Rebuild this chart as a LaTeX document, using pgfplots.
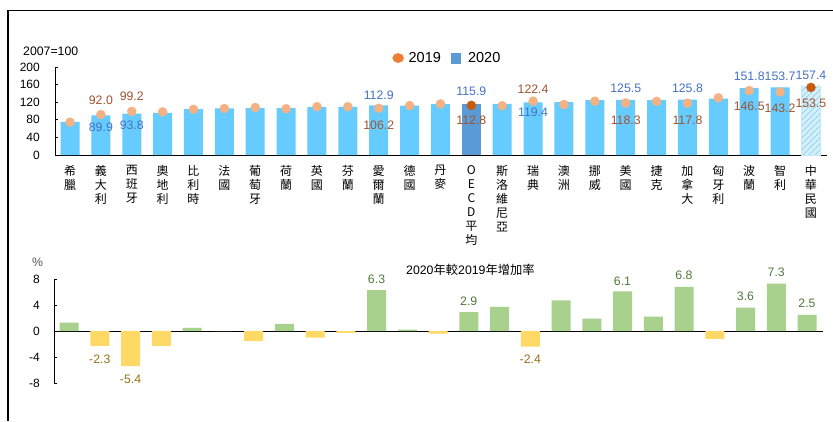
\documentclass[border=0pt]{standalone}
\usepackage{fontspec}
\setmainfont{Liberation Sans}
\newfontfamily\cjk{Noto Sans CJK TC}
\usepackage{pgfplots}
\pgfplotsset{compat=1.18}
\usetikzlibrary{patterns.meta}
\definecolor{barblue}{HTML}{66CCFF}
\definecolor{oecdblue}{HTML}{5B9BD5}
\definecolor{dotlight}{HTML}{F4B183}
\definecolor{dotdark}{HTML}{C55A11}
\definecolor{leg19}{HTML}{ED7D31}
\definecolor{leg20}{HTML}{5B9BD5}
\definecolor{lab19}{HTML}{A0522D}
\definecolor{lab20}{HTML}{4472C4}
\definecolor{posgreen}{HTML}{A9D18E}
\definecolor{negyellow}{HTML}{FFD966}
\definecolor{labpos}{HTML}{507A3C}
\definecolor{labneg}{HTML}{977414}
\definecolor{twfill}{HTML}{D6F0FB}
\definecolor{twhatch}{HTML}{8DD3F2}
\begin{document}
\begin{tikzpicture}[x=1pt,y=1pt,
  vl/.style={font=\fontsize{12.3}{14}\selectfont, inner sep=0pt, anchor=center}]
\useasboundingbox (0,0) rectangle (833,-421);
\fill[white] (0,0) rectangle (833,-421);
\draw[line width=1.3pt] (8,-421) -- (8,-10.5) -- (833,-10.5);
\node[anchor=west, font=\fontsize{12.3}{14}\selectfont, inner sep=0pt] at (23,-51) {2007=100};
\node[anchor=center, font=\fontsize{12.3}{14}\selectfont, inner sep=0pt, text=black!65] at (37.5,-262) {\%};
\node[anchor=west, font=\fontsize{12.3}{14}\selectfont, inner sep=0pt] at (406,-270) {2020{\cjk 年較}2019{\cjk 年增加率}};

\begin{axis}[
  scale only axis, width=772pt, height=88pt,
  at={(55pt,-155pt)}, anchor=south west,
  xmin=-0.486, xmax=24.52, ymin=0, ymax=200,
  axis x line*=bottom, axis y line*=left,
  axis line style={-, line width=0.9pt, black},
  xtick={0,...,24},
  xticklabels={{希\\臘},{義\\大\\利},{西\\班\\牙},{奧\\地\\利},{比\\利\\時},{法\\國},{葡\\萄\\牙},{荷\\蘭},{英\\國},{芬\\蘭},{愛\\爾\\蘭},{德\\國},{丹\\麥},{O\\E\\C\\D\\平\\均},{斯\\洛\\維\\尼\\亞},{瑞\\典},{澳\\洲},{挪\\威},{美\\國},{捷\\克},{加\\拿\\大},{匈\\牙\\利},{波\\蘭},{智\\利},{中\\華\\民\\國}},
  major x tick style={draw=none},
  xticklabel style={anchor=north, inner sep=0pt, yshift=-10pt, align=center, font=\cjk\fontsize{12}{14}\selectfont},
  ytick={0,40,...,200}, tick align=inside, major tick length=3pt,
  major y tick style={line width=0.8pt, black},
  yticklabel style={inner sep=0pt, xshift=-15pt, font=\fontsize{12}{14}\selectfont},
  /pgf/number format/assume math mode=true,
  clip=false,
  legend style={at={(0.507,1.102)}, anchor=center, draw=none, fill=none,
    font=\fontsize{14.5}{16}\selectfont, inner sep=0pt, nodes={inner sep=0pt},
    /tikz/every even column/.append style={column sep=10pt}},
  legend columns=2,
]
\addplot[ybar, bar width=19pt, fill=barblue, draw=none, forget plot] coordinates {(0,75.5) (1,89.9) (2,93.8) (3,95.8) (4,104.2) (5,105.7) (6,106.4) (7,106.4) (8,108.7) (9,109.4) (10,112.9) (11,112.5) (12,115.5) (14,116.2) (15,119.4) (16,120.0) (17,124.5) (18,125.5) (19,124.5) (20,125.8) (21,128.3) (22,151.8) (23,153.7)};
\addplot[ybar, bar width=19pt, fill=oecdblue, draw=none, forget plot] coordinates {(13,115.9)};
\addplot[ybar, bar width=19pt, fill=twfill, draw=twhatch!50, postaction={pattern={Lines[angle=45,distance=4pt,line width=1.1pt]}, pattern color=twhatch}, forget plot] coordinates {(24,157.4)};
\addplot[only marks, mark=*, mark size=4.5pt, color=dotlight, forget plot] coordinates {(0,74.5) (1,92.0) (2,99.2) (3,98.0) (4,103.7) (5,105.7) (6,108.0) (7,105.2) (8,109.8) (9,109.7) (10,106.2) (11,112.3) (12,116.0) (14,112.1) (15,122.4) (16,114.6) (17,122.2) (18,118.3) (19,121.8) (20,117.8) (21,129.9) (22,146.5) (23,143.2)};
\addplot[only marks, mark=*, mark size=4.5pt, color=dotdark, forget plot] coordinates {(13,112.8) (24,153.5)};
\addlegendimage{legend image code/.code={\path[draw=none,fill=none] (0pt,-0.1pt) rectangle (16pt,0.1pt); \fill[leg19] (5.5pt,0pt) ellipse[x radius=5.5pt, y radius=4.6pt];}}
\addlegendentry{2019}
\addlegendimage{legend image code/.code={\path[draw=none,fill=none] (0pt,-0.1pt) rectangle (17pt,0.1pt); \fill[leg20] (0pt,-4.7pt) rectangle (9.4pt,4.7pt);}}
\addlegendentry{2020}
% value labels
\node[vl, text=lab19] at (axis cs:1,124) {92.0};
\node[vl, text=lab20] at (axis cs:1,62) {89.9};
\node[vl, text=lab19] at (axis cs:2,132.5) {99.2};
\node[vl, text=lab20] at (axis cs:2,66.6) {93.8};
\node[vl, text=lab20] at (axis cs:10,136.4) {112.9};
\node[vl, text=lab19] at (axis cs:10,67.5) {106.2};
\node[vl, text=lab20] at (axis cs:13,145.5) {115.9};
\node[vl, text=lab19] at (axis cs:13,79.5) {112.8};
\node[vl, text=lab19] at (axis cs:15,150) {122.4};
\node[vl, text=lab20] at (axis cs:15,97) {119.4};
\node[vl, text=lab20] at (axis cs:18,150.7) {125.5};
\node[vl, text=lab19] at (axis cs:18,80) {118.3};
\node[vl, text=lab20] at (axis cs:20,150.7) {125.8};
\node[vl, text=lab19] at (axis cs:20,80) {117.8};
\node[vl, text=lab20] at (axis cs:22,178) {151.8};
\node[vl, text=lab19] at (axis cs:22,110) {146.5};
\node[vl, text=lab20] at (axis cs:23,178) {153.7};
\node[vl, text=lab19] at (axis cs:23,106) {143.2};
\node[vl, text=lab20] at (axis cs:24,181) {157.4};
\node[vl, text=lab19] at (axis cs:24,117.5) {153.5};
\end{axis}

\begin{axis}[
  scale only axis, width=769pt, height=104pt,
  at={(54pt,-383pt)}, anchor=south west,
  xmin=-0.49, xmax=24.52, ymin=-8, ymax=8,
  axis x line*=middle, axis y line*=left,
  axis line style={-, line width=0.9pt, black},
  xtick=\empty,
  ytick={-8,-4,0,4,8}, tick align=inside, major tick length=3pt,
  major y tick style={line width=0.8pt, black},
  yticklabel style={inner sep=0pt, xshift=-14pt, font=\fontsize{12}{14}\selectfont},
  /pgf/number format/assume math mode=true,
  clip=false,
]
\addplot[ybar, bar width=19pt, fill=posgreen, draw=none] coordinates {(0,1.3) (4,0.5) (5,0.0) (7,1.1) (10,6.3) (11,0.2) (13,2.9) (14,3.7) (16,4.7) (17,1.9) (18,6.1) (19,2.2) (20,6.8) (22,3.6) (23,7.3) (24,2.5)};
\addplot[ybar, bar width=19pt, fill=negyellow, draw=none] coordinates {(1,-2.3) (2,-5.4) (3,-2.3) (6,-1.5) (8,-1.0) (9,-0.3) (12,-0.4) (15,-2.4) (21,-1.2)};
\node[vl, text=labpos] at (axis cs:10,8.0) {6.3};
\node[vl, text=labneg] at (axis cs:1,-4.3) {-2.3};
\node[vl, text=labneg] at (axis cs:2,-7.4) {-5.4};
\node[vl, text=labpos] at (axis cs:13,4.6) {2.9};
\node[vl, text=labneg] at (axis cs:15,-4.3) {-2.4};
\node[vl, text=labpos] at (axis cs:18,7.6) {6.1};
\node[vl, text=labpos] at (axis cs:20,8.5) {6.8};
\node[vl, text=labpos] at (axis cs:22,5.3) {3.6};
\node[vl, text=labpos] at (axis cs:23,9.1) {7.3};
\node[vl, text=labpos] at (axis cs:24,4.3) {2.5};
\end{axis}
\end{tikzpicture}
\end{document}
